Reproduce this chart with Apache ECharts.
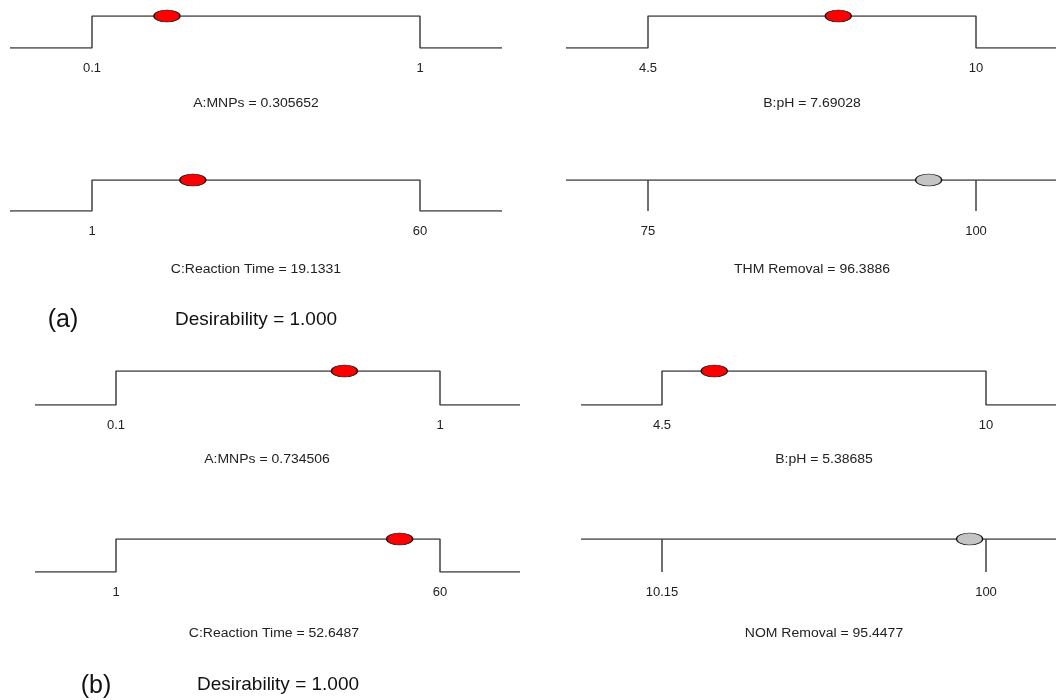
<!DOCTYPE html>
<html>
<head>
<meta charset="utf-8">
<script src="https://cdn.jsdelivr.net/npm/echarts@6/dist/echarts.min.js"></script>
<style>
html,body{margin:0;padding:0;background:#fff;}
#chart{width:1056px;height:700px;}
</style>
</head>
<body>
<div id="chart"></div>
<script>
// ---- data ----
const panelLetters = ['(a)', '(b)'];
const desirability = ['1.000', '1.000'];

const namesA = ['A:MNPs', 'B:pH', 'C:Reaction Time', 'THM Removal'];
const lowA = [0.1, 4.5, 1, 75];
const highA = [1, 10, 60, 100];
const valueA = [0.305652, 7.69028, 19.1331, 96.3886];
const valueTextA = ['0.305652', '7.69028', '19.1331', '96.3886'];

const namesB = ['A:MNPs', 'B:pH', 'C:Reaction Time', 'NOM Removal'];
const lowB = [0.1, 4.5, 1, 10.15];
const highB = [1, 10, 60, 100];
const valueB = [0.734506, 5.38685, 52.6487, 95.4477];
const valueTextB = ['0.734506', '5.38685', '52.6487', '95.4477'];

const kinds = ['factor', 'factor', 'factor', 'response'];

// ---- layout (positions only, pixels) ----
// left/right: extent of the drawn line; loPx/hiPx: where the low/high limits sit
const layout = [
  // panel a
  {left: 10, right: 502, loPx: 92, hiPx: 420, top: 16, height: 32, titleX: 256, titleY: 102},
  {left: 566, right: 1056, loPx: 648, hiPx: 976, top: 16, height: 32, titleX: 812, titleY: 102},
  {left: 10, right: 502, loPx: 92, hiPx: 420, top: 180, height: 31, titleX: 256, titleY: 268},
  {left: 566, right: 1056, loPx: 648, hiPx: 976, top: 180, height: 31, titleX: 812, titleY: 268},
  // panel b
  {left: 35, right: 520, loPx: 116, hiPx: 440, top: 371, height: 34, titleX: 267, titleY: 458},
  {left: 581, right: 1056, loPx: 662, hiPx: 986, top: 371, height: 34, titleX: 824, titleY: 458},
  {left: 35, right: 520, loPx: 116, hiPx: 440, top: 539, height: 33, titleX: 274, titleY: 632},
  {left: 581, right: 1056, loPx: 662, hiPx: 986, top: 539, height: 33, titleX: 824, titleY: 632}
];
const letterPos = [{x: 63, y: 320}, {x: 96, y: 686}];
const desPos = [{x: 256, y: 320}, {x: 278, y: 685}];

const FONT = 'Arial, "Liberation Sans", sans-serif';
const LINE = '#404040';

const panels = [];
[[namesA, lowA, highA, valueA, valueTextA], [namesB, lowB, highB, valueB, valueTextB]].forEach(function (p) {
  for (let i = 0; i < 4; i++) {
    panels.push({name: p[0][i], lo: p[1][i], hi: p[2][i], val: p[3][i], valText: p[4][i], kind: kinds[i]});
  }
});

const grid = [], xAxis = [], yAxis = [], series = [], graphic = [];

panels.forEach(function (p, k) {
  const L = layout[k];
  const span = p.hi - p.lo;
  const pxSpan = L.hiPx - L.loPx;
  const xmin = p.lo - (L.loPx - L.left) / pxSpan * span;
  const xmax = p.hi + (L.right - L.hiPx) / pxSpan * span;
  grid.push({left: L.left, top: L.top, width: L.right - L.left, height: L.height, containLabel: false});
  xAxis.push({
    type: 'value', gridIndex: k, min: xmin, max: xmax,
    axisLine: {show: false}, axisTick: {show: false}, splitLine: {show: false},
    axisLabel: {
      show: true, customValues: [p.lo, p.hi], margin: 14,
      fontSize: 13, color: '#222', fontFamily: FONT,
      formatter: function (v) { return String(v); }
    }
  });
  yAxis.push({type: 'value', gridIndex: k, min: 0, max: 1, show: false});
  const common = {type: 'line', xAxisIndex: k, yAxisIndex: k, symbol: 'none', silent: true,
    lineStyle: {color: LINE, width: 1.5}, animation: false, z: 2};
  if (p.kind === 'factor') {
    series.push(Object.assign({}, common, {
      data: [[xmin, 0], [p.lo, 0], [p.lo, 1], [p.hi, 1], [p.hi, 0], [xmax, 0]]
    }));
  } else {
    series.push(Object.assign({}, common, {data: [[xmin, 1], [xmax, 1]]}));
    series.push(Object.assign({}, common, {data: [[p.lo, 1], [p.lo, 0]]}));
    series.push(Object.assign({}, common, {data: [[p.hi, 1], [p.hi, 0]]}));
  }
  series.push({
    type: 'scatter', xAxisIndex: k, yAxisIndex: k, silent: true, animation: false, z: 5,
    symbol: 'circle', symbolSize: [26, 12],
    itemStyle: {color: p.kind === 'factor' ? '#ff0000' : '#c4c4c4', borderColor: '#111', borderWidth: 1, opacity: 1},
    data: [[p.val, 1]]
  });
  graphic.push({
    type: 'text', x: L.titleX, y: L.titleY + 2, scaleX: 1.12,
    style: {text: p.name + ' = ' + p.valText, fontSize: 12.5, fontFamily: FONT, fill: '#222',
      textAlign: 'center', textVerticalAlign: 'middle'}
  });
});

for (let j = 0; j < 2; j++) {
  graphic.push({
    type: 'text', x: letterPos[j].x, y: letterPos[j].y,
    style: {text: panelLetters[j], fontSize: 25, fontFamily: FONT, fill: '#111',
      textAlign: 'center', textVerticalAlign: 'middle'}
  });
  graphic.push({
    type: 'text', x: desPos[j].x, y: desPos[j].y,
    style: {text: 'Desirability = ' + desirability[j], fontSize: 19, fontFamily: FONT, fill: '#111',
      textAlign: 'center', textVerticalAlign: 'middle'}
  });
}

const chart = echarts.init(document.getElementById('chart'));
chart.setOption({
  animation: false,
  backgroundColor: '#fff',
  grid: grid, xAxis: xAxis, yAxis: yAxis, series: series, graphic: graphic
});
</script>
</body>
</html>
